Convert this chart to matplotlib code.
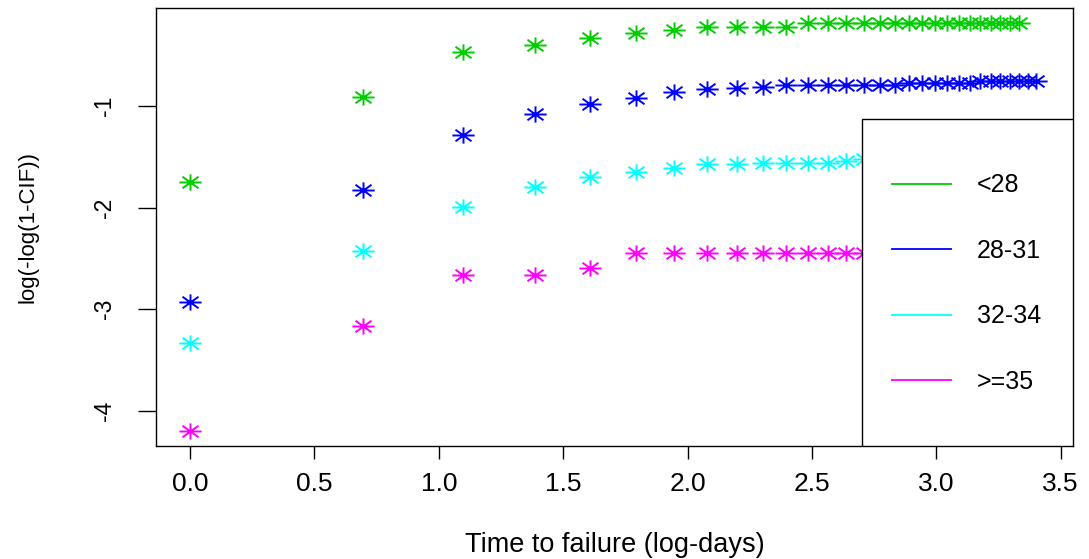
import numpy as np
import matplotlib
matplotlib.use('Agg')
import matplotlib.pyplot as plt
from matplotlib.path import Path
from matplotlib.lines import Line2D
from matplotlib.patches import Rectangle

plt.rcParams['font.family'] = ['Liberation Sans', 'DejaVu Sans']
plt.rcParams['axes.unicode_minus'] = False

# days since start, plotted on log scale
days_lt28 = list(range(1, 29))
days_28_31 = list(range(1, 31))
days_32_34 = list(range(1, 31))
days_ge35 = list(range(1, 31))

# log(-log(1-CIF)) per group
cif_lt28 = [-1.75, -0.91, -0.465, -0.40, -0.325, -0.285, -0.255, -0.221, -0.221, -0.221,
            -0.221, -0.178, -0.178, -0.178, -0.178, -0.178, -0.178, -0.178, -0.178, -0.178,
            -0.178, -0.178, -0.178, -0.178, -0.178, -0.178, -0.178, -0.178]
cif_28_31 = [-2.93, -1.83, -1.29, -1.08, -0.98, -0.92, -0.86, -0.83, -0.82, -0.81,
             -0.79, -0.79, -0.79, -0.79, -0.79, -0.79, -0.79, -0.77, -0.77, -0.77,
             -0.77, -0.77, -0.77, -0.75, -0.75, -0.75, -0.75, -0.75, -0.75, -0.75]
cif_32_34 = [-3.33, -2.43, -1.99, -1.80, -1.70, -1.65, -1.61, -1.574, -1.574, -1.565,
             -1.557, -1.557, -1.557, -1.54, -1.525, -1.525, -1.525, -1.525, -1.525, -1.525,
             -1.525, -1.525, -1.525, -1.525, -1.525, -1.525, -1.525, -1.525, -1.525, -1.525]
cif_ge35 = [-4.20, -3.17, -2.66, -2.66, -2.60, -2.45, -2.45, -2.45, -2.45, -2.45,
            -2.45, -2.45, -2.45, -2.45, -2.45, -2.45, -2.45, -2.45, -2.45, -2.45,
            -2.45, -2.45, -2.45, -2.45, -2.45, -2.45, -2.45, -2.45, -2.45, -2.45]

groups = ['<28', '28-31', '32-34', '>=35']
colors = ['#00CD00', '#0000FF', '#00FFFF', '#FF00FF']

x_ticks = [0.0, 0.5, 1.0, 1.5, 2.0, 2.5, 3.0, 3.5]
y_ticks = [-4, -3, -2, -1]

# R style asterisk (pch = 8), a bit wider than tall like the picture
verts = [(-1, 0), (1, 0), (0, -0.73), (0, 0.73),
         (-0.72, -0.52), (0.72, 0.52), (-0.72, 0.52), (0.72, -0.52)]
codes = [Path.MOVETO, Path.LINETO] * 4
star = Path(verts, codes)

fig = plt.figure(figsize=(10.89, 5.59), dpi=100)
ax = fig.add_axes([0.1433, 0.2021, 0.842, 0.7836])

all_days = [days_lt28, days_28_31, days_32_34, days_ge35]
all_vals = [cif_lt28, cif_28_31, cif_32_34, cif_ge35]
for d, v, c in zip(all_days, all_vals, colors):
    ax.plot(np.log(d), v, linestyle='none', marker=star, markersize=16,
            markeredgewidth=1.4, markerfacecolor='none', color=c, zorder=2)

ax.set_xlim(-0.137, 3.55)
ax.set_ylim(-4.35, -0.034)
ax.set_xticks(x_ticks)
ax.set_xticklabels([f"{t:.1f}" for t in x_ticks])
ax.set_yticks(y_ticks)
ax.set_yticklabels([str(t) for t in y_ticks], rotation=90, va='center')

ax.tick_params(axis='x', length=9, width=1, pad=10, labelsize=19)
ax.tick_params(axis='y', length=13, width=1, pad=16, labelsize=16.5)
for s in ax.spines.values():
    s.set_linewidth(1)
    s.set_color('black')

ax.set_xlabel('Time to failure (log-days)', fontsize=19.5)
ax.set_ylabel('log(-log(1-CIF))', fontsize=16)
ax.xaxis.set_label_coords(0.5, -0.197)
ax.yaxis.set_label_coords(-0.128, 0.5)

# legend box, reaches down to the bottom of the plot like in R
box = Rectangle((0.770, 0), 0.23, 0.7466, transform=ax.transAxes,
                facecolor='white', edgecolor='black', linewidth=1, zorder=4)
ax.add_patch(box)
handles = [Line2D([], [], color=c, linewidth=1.3) for c in colors]
leg = ax.legend(handles, groups, frameon=False, loc='center left',
                bbox_to_anchor=(0.8026, 0.371), borderpad=0, borderaxespad=0,
                handlelength=2.36, handletextpad=1.04, labelspacing=1.66, fontsize=18)
leg.set_zorder(5)

fig.savefig('out.png', dpi=100)
